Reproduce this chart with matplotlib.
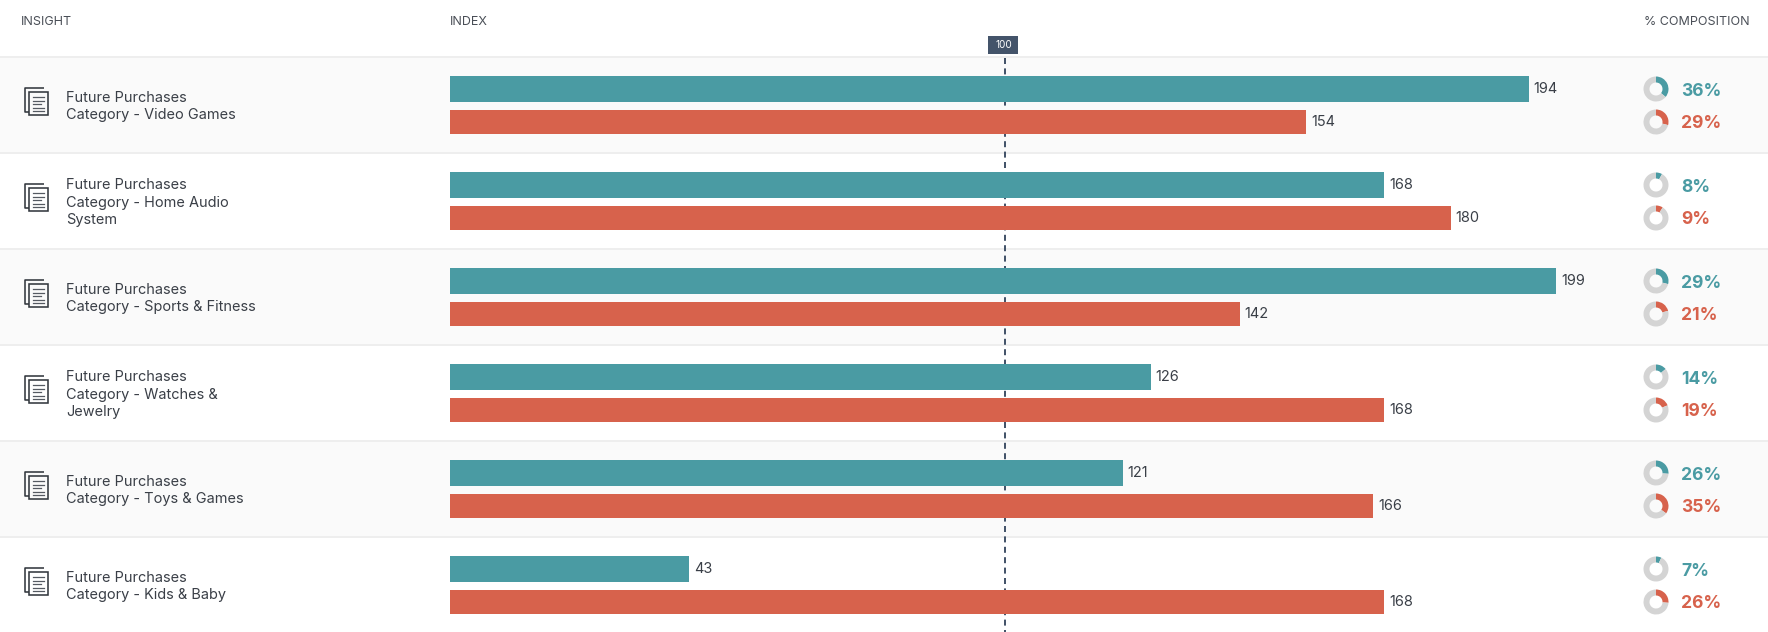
import matplotlib
matplotlib.use("Agg")
import matplotlib.pyplot as plt
from matplotlib.patches import Rectangle
from matplotlib.transforms import ScaledTranslation

plt.rcParams['font.family'] = ['Inter', 'DejaVu Sans']

insights = ["Future Purchases\nCategory - Video Games",
            "Future Purchases\nCategory - Home Audio\nSystem",
            "Future Purchases\nCategory - Sports & Fitness",
            "Future Purchases\nCategory - Watches &\nJewelry",
            "Future Purchases\nCategory - Toys & Games",
            "Future Purchases\nCategory - Kids & Baby"]
index_teal = [194, 168, 199, 126, 121, 43]
index_red = [154, 180, 142, 168, 166, 168]
comp_teal = [36, 8, 29, 14, 26, 7]
comp_red = [29, 9, 21, 19, 35, 26]
headers = ["INSIGHT", "INDEX", "% COMPOSITION"]
reference = 100

W, H = 1768, 632
TEAL, RED, GREY = '#4A9BA3', '#D7624C', '#D4D4D4'
DARK = '#3A3F47'
NAVY = '#44546A'
ROW_H, ROW0 = 96, 57
PX = 0.72

fig = plt.figure(figsize=(W / 100, H / 100), dpi=100, facecolor='white')

# page layer, in pixels
bg = fig.add_axes([0, 0, 1, 1], zorder=0)
bg.set_xlim(0, W)
bg.set_ylim(H, 0)
bg.axis('off')

for i in range(len(insights)):
    top = ROW0 + i * ROW_H
    if i % 2 == 0:
        bg.add_patch(Rectangle((0, top), W, ROW_H, fc='#FAFAFA', ec='none'))
    bg.add_patch(Rectangle((0, top - 1), W, 2, fc='#EEEEEE', ec='none', zorder=2))

    # document icon
    lw = 1.15
    bg.plot([44, 25, 25, 29], [top + 30.5, top + 30.5, top + 55, top + 55],
            color='#33383F', lw=lw, solid_capstyle='butt')
    bg.add_patch(Rectangle((29, top + 34.5), 18.5, 23.5, fc='none', ec='#33383F', lw=lw))
    for k, ly in enumerate([40, 43.5, 47, 50.5, 54]):
        bg.plot([33, 44 if k % 3 != 2 else 41], [top + ly, top + ly], color='#555A62', lw=0.9)

    bg.text(66, top + 49.5, insights[i], ha='left', va='center', fontsize=14.5 * PX,
            color=DARK, linespacing=1.36)

for name, x in zip(headers, [21, 450, 1644]):
    bg.text(x, 22, name, ha='left', va='center', fontsize=12.5 * PX, color='#4A4F57')

# bars, on a data scale
SCALE = 5.56
LEFT = 450
ax = fig.add_axes([LEFT / W, 0, (W - LEFT) / W, 1], zorder=1)
ax.patch.set_alpha(0)
ax.set_xlim(0, (W - LEFT) / SCALE)
ax.set_ylim(H, 0)
ax.axis('off')

ax.plot([reference, reference], [58, H], color=NAVY, lw=2 * PX,
        dashes=(3.0, 2.2), zorder=1,
        transform=ax.transData + ScaledTranslation(-PX / 72, 0, fig.dpi_scale_trans))

tops = [ROW0 + i * ROW_H for i in range(len(insights))]
y_teal = [t + 32 for t in tops]
y_red = [t + 65 for t in tops]
ax.barh(y_teal, index_teal, height=26, color=TEAL, zorder=2)
ax.barh(y_red, index_red, height=24, color=RED, zorder=2)
for y, v in zip(y_teal, index_teal):
    ax.annotate(str(v), (v, y), xytext=(5 * PX, 0), textcoords='offset points',
                ha='left', va='center', fontsize=14.5 * PX, color=DARK)
for y, v in zip(y_red, index_red):
    ax.annotate(str(v), (v, y), xytext=(5 * PX, 0), textcoords='offset points',
                ha='left', va='center', fontsize=14.5 * PX, color=DARK)

# reference badge
bg.add_patch(Rectangle((988, 36), 30, 18, fc=NAVY, ec='none', zorder=5))
bg.text(1003.5, 45, str(reference), ha='center', va='center', fontsize=10 * PX,
        color='white', zorder=6)

# donuts
CX, R = 1656, 12.5
def donut(cy, value, color):
    a = fig.add_axes([(CX - R) / W, 1 - (cy + R) / H, 2 * R / W, 2 * R / H], zorder=3)
    a.pie([value, 100 - value], colors=[color, GREY], startangle=90, counterclock=False,
          radius=1, wedgeprops=dict(width=0.48, linewidth=0))
    a.set_xlim(-1, 1)
    a.set_ylim(-1, 1)
    a.set_aspect('equal')
    a.axis('off')

for t, a_, b_ in zip(tops, comp_teal, comp_red):
    donut(t + 32, a_, TEAL)
    donut(t + 65, b_, RED)
    bg.text(1681, t + 34.5, f"{a_}%", ha='left', va='center', fontsize=17.5 * PX,
            fontweight='bold', color=TEAL)
    bg.text(1681, t + 66, f"{b_}%", ha='left', va='center', fontsize=17.5 * PX,
            fontweight='bold', color=RED)

fig.savefig('out.png', dpi=100)
